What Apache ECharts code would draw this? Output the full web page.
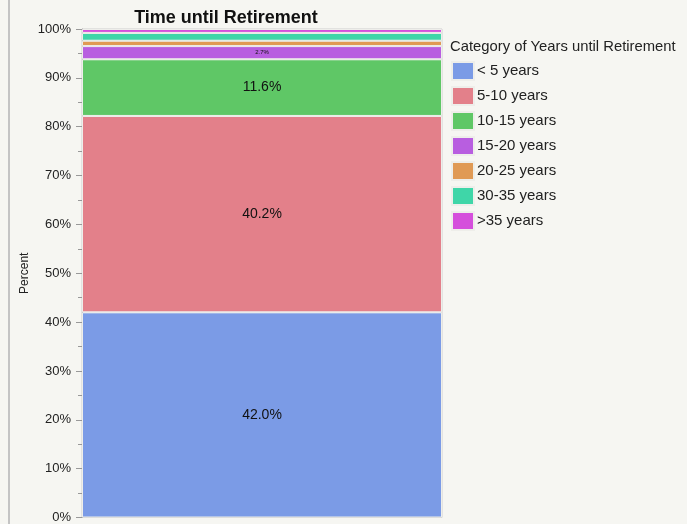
<!DOCTYPE html>
<html>
<head>
<meta charset="utf-8">
<script src="https://cdn.jsdelivr.net/npm/echarts@6/dist/echarts.min.js"></script>
<style>
  html, body { margin: 0; padding: 0; background: #f6f6f2; }
  #chart { width: 687px; height: 524px; }
</style>
</head>
<body>
<div id="chart"></div>
<script>
const categories = ['Time until Retirement']
const groups = ['< 5 years', '5-10 years', '10-15 years', '15-20 years', '20-25 years', '30-35 years', '>35 years']
const percents = [42.0, 40.2, 11.6, 2.7, 1.1, 1.6, 0.8]
const labelFor = ['42.0%', '40.2%', '11.6%', '2.7%', '', '', '']
const colors = ['#7b9be6', '#e3808a', '#5fc766', '#b85ee0', '#e09a55', '#3fd6a8', '#d54fdc']
const yTicks = [0, 10, 20, 30, 40, 50, 60, 70, 80, 90, 100]

const font = 'Helvetica, Arial, "Liberation Sans", sans-serif'
const chart = echarts.init(document.getElementById('chart'), null, { renderer: 'canvas' })

const series = groups.map((name, i) => ({
  name,
  type: 'bar',
  stack: 'total',
  barWidth: '100%',
  data: [percents[i]],
  itemStyle: {
    color: colors[i],
    borderColor: '#eeeeea',
    borderWidth: 1
  },
  label: {
    show: labelFor[i] !== '',
    position: 'inside',
    formatter: () => labelFor[i],
    color: '#111',
    fontFamily: font,
    fontSize: percents[i] < 5 ? 6 : 14
  },
  emphasis: { disabled: true }
}))

chart.setOption({
  backgroundColor: '#f6f6f2',
  animation: false,
  title: [
    {
      text: 'Time until Retirement',
      left: 221,
      top: 4,
      textAlign: 'center',
      textStyle: { fontSize: 18, fontWeight: 'bold', color: '#111', fontFamily: font }
    },
    {
      text: 'Category of Years until Retirement',
      left: 445,
      top: 34,
      textStyle: { fontSize: 14.8, fontWeight: 'normal', color: '#222', fontFamily: font }
    }
  ],
  legend: {
    orient: 'vertical',
    left: 451,
    top: 61,
    padding: 0,
    itemWidth: 22,
    itemHeight: 18,
    itemGap: 5,
    selectedMode: false,
    icon: 'rect',
    data: groups,
    textStyle: {
      fontSize: 15,
      lineHeight: 18,
      color: '#222',
      padding: [0, 0, 0, -2],
      fontFamily: font
    }
  },
  graphic: [
    {
      type: 'rect',
      shape: { x: 8, y: 0, width: 2, height: 524 },
      style: { fill: '#c4c4c4' },
      silent: true
    }
  ],
  grid: {
    left: 82,
    right: 245,
    top: 29,
    bottom: 6,
    show: true,
    borderColor: '#cfcfcf',
    borderWidth: 1,
    backgroundColor: 'transparent'
  },
  xAxis: {
    type: 'category',
    data: categories,
    axisLine: { show: false },
    axisTick: { show: false },
    axisLabel: { show: false }
  },
  yAxis: {
    type: 'value',
    min: yTicks[0],
    max: yTicks[yTicks.length - 1],
    interval: 10,
    name: 'Percent',
    nameLocation: 'middle',
    nameGap: 51,
    nameMoveOverlap: false,
    nameRotate: 90,
    nameTextStyle: { fontSize: 12, color: '#222', fontFamily: font },
    axisLine: { show: true, lineStyle: { color: '#aaa' } },
    axisTick: { show: true, length: 6, lineStyle: { color: '#999' } },
    minorTick: { show: true, splitNumber: 2, length: 4, lineStyle: { color: '#999' } },
    splitLine: { show: false },
    axisLabel: {
      formatter: '{value}%',
      fontSize: 13,
      color: '#222',
      margin: 11,
      fontFamily: font
    }
  },
  series
})
</script>
</body>
</html>
